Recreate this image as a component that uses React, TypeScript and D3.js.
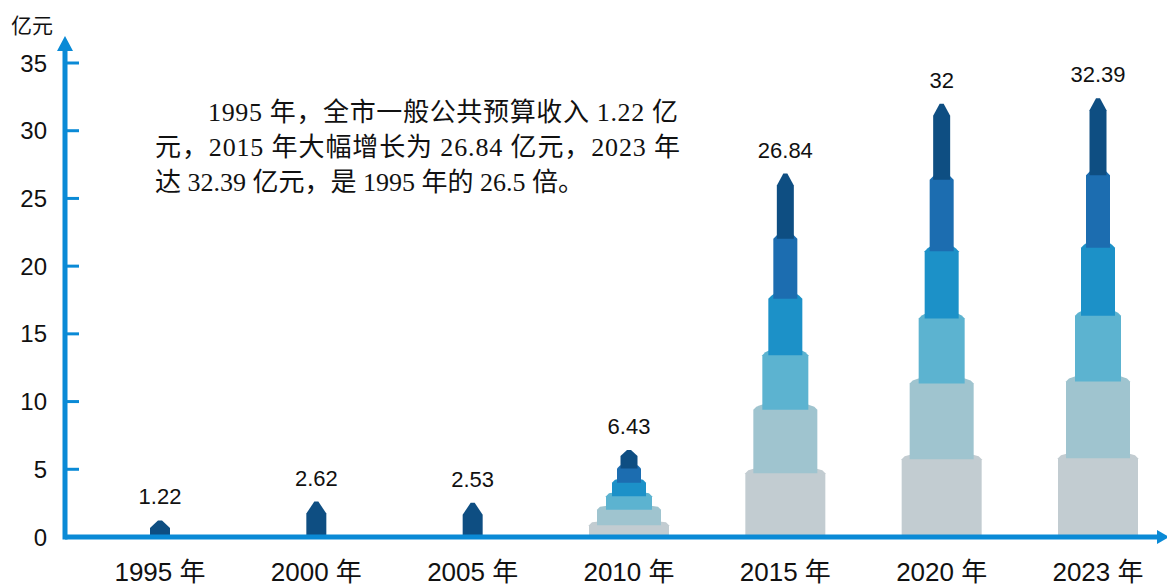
import React from "react";
import * as d3 from "d3";

const years = ["1995", "2000", "2005", "2010", "2015", "2020", "2023"];
const values = [1.22, 2.62, 2.53, 6.43, 26.84, 32, 32.39];
const valueLabels = ["1.22", "2.62", "2.53", "6.43", "26.84", "32", "32.39"];
const yTicks = [0, 5, 10, 15, 20, 25, 30, 35];
const noteLines = [
  "1995 年，全市一般公共预算收入 1.22 亿",
  "元，2015 年大幅增长为 26.84 亿元，2023 年",
  "达 32.39 亿元，是 1995 年的 26.5 倍。",
];

const W = 1167;
const H = 588;
const AXIS = "#0a8ad6";
const tierColors = ["#c2ccd1", "#9fc4cf", "#5cb3d0", "#1c91c8", "#1c6db0", "#0e4e82"];
const tierWidths = [80, 64, 46, 34, 24, 17];
const tierFracs = [0.2, 0.175, 0.15, 0.155, 0.165, 0.155];

export default function App() {
  const x = d3.scalePoint<string>().domain(years).range([160, 1098]);
  const y = d3.scaleLinear().domain([0, 35]).range([537, 63]);
  const base = y(0);

  const towers = years.map((yr, i) => {
    const cx = x(yr) as number;
    const top = y(values[i]);
    const total = base - top;
    const paths: { d: string; fill: string }[] = [];
    const bigEnough = values[i] >= 5;
    const startTier = bigEnough ? 0 : tierColors.length - 1;
    let cum = 0;
    let bottom = base;
    for (let t = 0; t < tierColors.length; t++) {
      cum += tierFracs[t];
      if (t < startTier) continue;
      const tTop = base - total * (bigEnough ? cum : 1);
      const hw = (bigEnough ? tierWidths[t] : 20) / 2;
      const xl = cx - hw;
      const xr = cx + hw;
      const th = bigEnough ? total * tierFracs[t] : total;
      const a = Math.min(6, th * 0.15);
      const s = 3;
      let d: string;
      if (t === tierColors.length - 1) {
        const tip = Math.min(12, th * 0.45);
        d = `M${xl},${bottom} L${xl},${tTop + tip} L${cx - 2},${tTop} L${cx + 2},${tTop} L${xr},${tTop + tip} L${xr},${bottom} Z`;
      } else {
        d = `M${xl},${bottom} L${xl},${tTop + a + s} L${xl + s},${tTop + a} Q${cx},${tTop - a} ${xr - s},${tTop + a} L${xr},${tTop + a + s} L${xr},${bottom} Z`;
      }
      paths.push({ d, fill: tierColors[t] });
      bottom = tTop + a + s;
    }
    return { cx, top, paths, label: valueLabels[i], yr };
  });

  const sans = "'Liberation Sans', Arial, 'Noto Sans CJK SC', sans-serif";
  const serif = "'Liberation Serif', 'Times New Roman', 'Noto Sans CJK SC', serif";

  return (
    <svg
      width={W}
      height={H}
      viewBox={`0 0 ${W} ${H}`}
      style={{ position: "absolute", left: 0, top: 0, background: "#fff" }}
    >
      {towers.map((tw) => (
        <g key={tw.yr}>
          {tw.paths.map((p, j) => (
            <path key={j} d={p.d} fill={p.fill} />
          ))}
          <text
            x={tw.cx}
            y={tw.top - 16}
            textAnchor="middle"
            fontFamily={sans}
            fontSize={22}
            fill="#111"
          >
            {tw.label}
          </text>
          <text
            x={tw.cx}
            y={581}
            textAnchor="middle"
            fontFamily={sans}
            fontSize={26}
            fill="#111"
          >
            {tw.yr} 年
          </text>
        </g>
      ))}

      <line x1={65} y1={base} x2={1160} y2={base} stroke={AXIS} strokeWidth={5} />
      <path d={`M1169,${base} L1157,${base - 7} L1157,${base + 7} Z`} fill={AXIS} />
      <line x1={65} y1={base + 2.5} x2={65} y2={48} stroke={AXIS} strokeWidth={5} />
      <path d={`M65,36 L57,51 L73,51 Z`} fill={AXIS} />
      {yTicks.map((t) => (
        <g key={t}>
          {t > 0 && (
            <line x1={67} y1={y(t)} x2={79} y2={y(t)} stroke={AXIS} strokeWidth={3} />
          )}
          <text
            x={47}
            y={y(t)}
            textAnchor="end"
            dominantBaseline="central"
            fontFamily={sans}
            fontSize={24}
            fill="#111"
          >
            {t}
          </text>
        </g>
      ))}
      <text x={11} y={33} fontFamily={sans} fontSize={21} fill="#111">
        亿元
      </text>

      <text x={208} y={121} fontFamily={serif} fontSize={26} fill="#111" textLength={470} lengthAdjust="spacing">
        {noteLines[0]}
      </text>
      <text x={155} y={156} fontFamily={serif} fontSize={26} fill="#111" textLength={525} lengthAdjust="spacing">
        {noteLines[1]}
      </text>
      <text x={155} y={191} fontFamily={serif} fontSize={26} fill="#111">
        {noteLines[2]}
      </text>
    </svg>
  );
}
